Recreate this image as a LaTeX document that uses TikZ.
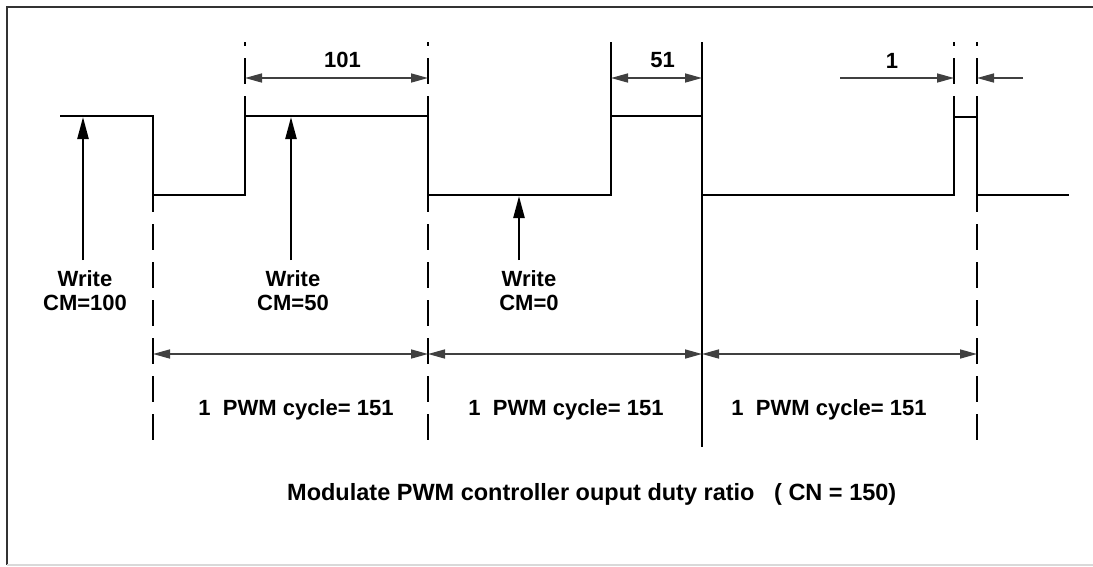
\documentclass[tikz,border=0pt]{standalone}
\usepackage{fontspec}
\setmainfont{Liberation Sans}
\usetikzlibrary{arrows.meta}
\begin{document}
\begin{tikzpicture}[x=1pt,y=-1pt]
      \tikzset{signal/.style={line width=2.8pt, line join=miter},
               guide/.style={line width=1.8pt, dash pattern=on 26pt off 12pt},
               solidguide/.style={line width=2.6pt},
               dimline/.style={line width=1.6pt, black!75, {Triangle[length=17pt,width=9pt]}-{Triangle[length=17pt,width=9pt]}},
               dimone/.style={line width=1.6pt, black!75, -{Triangle[length=17pt,width=9pt]}},
               writearrow/.style={line width=2.4pt, -{Triangle[length=22pt,width=11pt]}},
               lbl/.style={font=\bfseries\fontsize{22}{24}\selectfont, text=black, inner sep=0pt, align=center}}
      \useasboundingbox (0,0) rectangle (1093,566);
%% Frame
      \draw[line width=1.8pt, black!80] (7,565) -- (7,7) -- (1093,7);
      \draw[line width=1.5pt, black!15] (7,565) -- (1093,565);
%% Cycle boundaries
      \coordinate (b1) at (153,195);
      \coordinate (b2) at (428,116);
      \coordinate (b3) at (702,116);
      \coordinate (b4) at (977,117);
%Waveform
      \draw[signal] (60,116) -- (b1 |- 0,116) -- (b1) -- (245,195) -- (245,116) -- (b2) -- (b2 |- b1) -- (611,195)
            -- (611,116) -- (b3) -- (b3 |- b1) -- (954,195) -- (954,117) -- (b4) -- (b4 |- b1) -- (1069,195);
%Guides
      \draw[guide, dash phase=22pt] (245,42) -- (245,116);
      \draw[guide, dash phase=22pt] (b2 |- 0,42) -- (b2);
      \draw[guide, dash phase=22pt] (954,42) -- (954,117);
      \draw[guide, dash phase=22pt] (b4 |- 0,42) -- (b4);
      \draw[guide, dash phase=9pt] (b1) -- (b1 |- 0,440);
      \draw[guide, dash phase=9pt] (b2 |- b1) -- (b2 |- 0,440);
      \draw[guide, dash phase=9pt] (b4 |- b1) -- (b4 |- 0,440);
      \draw[solidguide] (611,42) -- (611,116);
      \draw[solidguide] (b3 |- 0,42) -- (b3 |- 0,447);
%% Pulse widths
      \coordinate (p1l) at (245,78);
      \coordinate (p1r) at (b2 |- 0,78);
      \coordinate (p2l) at (611,78);
      \coordinate (p2r) at (b3 |- 0,78);
      \coordinate (p3l) at (954,78);
      \coordinate (p3r) at (b4 |- 0,78);
      \draw[dimline] (p1l) -- (p1r) node[lbl, midway, above=9pt, xshift=6pt] (w101) {101};
      \draw[dimline] (p2l) -- (p2r) node[lbl, midway, above=9pt, xshift=6pt] (w51) {51};
      \draw[dimone] (840,78) -- (p3l);
      \draw[dimone] (1023,78) -- (p3r);
      \node[lbl, anchor=south] (w1) at (892,69) {1};
%% Cycles
      \coordinate (c1) at (b1 |- 0,354);
      \coordinate (c2) at (b2 |- 0,354);
      \coordinate (c3) at (b3 |- 0,354);
      \coordinate (c4) at (b4 |- 0,354);
      \draw[dimline] (c1) -- (c2);
      \draw[dimline] (c2) -- (c3);
      \draw[dimline] (c3) -- (c4);
      \node[lbl, anchor=base] (cyc1) at (296,415) {1\ \ PWM cycle= 151};
      \node[lbl, anchor=base] (cyc2) at (566,415) {1\ \ PWM cycle= 151};
      \node[lbl, anchor=base] (cyc3) at (829,415) {1\ \ PWM cycle= 151};
%% Writes
      \node[lbl, anchor=north] (wr1) at (85,270) {Write\\CM=100};
      \node[lbl, anchor=north] (wr2) at (293,270) {Write\\CM=50};
      \node[lbl, anchor=north] (wr3) at (529,270) {Write\\CM=0};
      \coordinate (t1) at (83,117);
      \coordinate (t2) at (291,117);
      \coordinate (t3) at (519,196);
      \draw[writearrow] (t1 |- 0,260) -- (t1);
      \draw[writearrow] (t2 |- 0,260) -- (t2);
      \draw[writearrow] (t3 |- 0,260) -- (t3);
%% Caption
      \node[lbl, font=\bfseries\fontsize{23.5}{26}\selectfont, anchor=base west] (title) at (287,500)
            {Modulate PWM controller ouput duty ratio\ \ \ ( CN = 150)};
\end{tikzpicture}
\end{document}
